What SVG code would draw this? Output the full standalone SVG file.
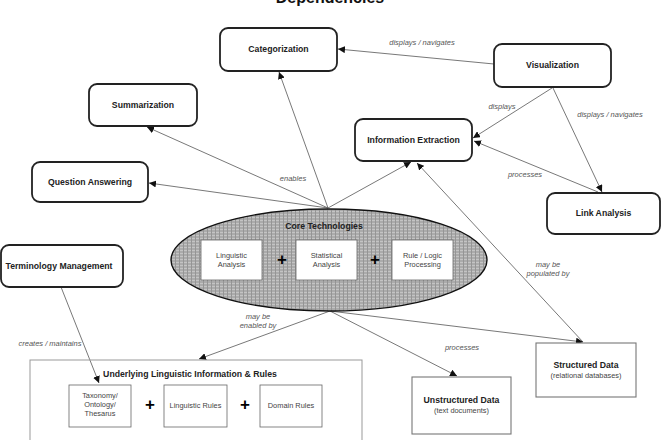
<svg xmlns="http://www.w3.org/2000/svg" width="662" height="440" viewBox="0 0 662 440">
<style>
text{font-family:"Liberation Sans",Arial,sans-serif}
.node rect{fill:#fff;stroke:#222;stroke-width:1.8}
.nt{font-size:8.7px;font-weight:bold;fill:#222;text-anchor:middle}
.lbl{font-size:7.5px;font-style:italic;fill:#555;text-anchor:middle}
.in rect{fill:#fff;stroke:#666;stroke-width:0.8}
.it{font-size:7.4px;fill:#444;text-anchor:middle}
.plus{font-size:17px;font-weight:bold;fill:#000;text-anchor:middle}
.data rect{fill:#fff;stroke:#777;stroke-width:1.1}
.sub{font-size:7.4px;fill:#444;text-anchor:middle}
#connectors path{fill:none;stroke:#555;stroke-width:0.8;marker-end:url(#ah)}
</style>
<defs>
<marker id="ah" viewBox="0 0 10 10" refX="10" refY="5" markerWidth="7" markerHeight="7" markerUnits="userSpaceOnUse" orient="auto">
<path d="M0,0 L10,5 L0,10 z" fill="#111"/>
</marker>
<pattern id="tex" width="4" height="3" patternUnits="userSpaceOnUse">
<rect width="4" height="3" fill="#ababab"/>
<rect x="0" y="1" width="3" height="1" fill="#c4c4c4"/>
<rect x="3" y="0" width="1" height="3" fill="#959595"/>
</pattern>
</defs>
<rect width="662" height="440" fill="#fff"/>
<text x="330" y="3" font-size="16" font-weight="bold" text-anchor="middle" fill="#111">Dependencies</text>

<g id="connectors">
<path d="M494,64 L338,49"/>
<path d="M552,88 L473,138"/>
<path d="M553,88 L602,192"/>
<path d="M598,192 L474,141"/>
<path d="M328,208 L279,72"/>
<path d="M328,208 L147,127"/>
<path d="M328,208 L149,183"/>
<path d="M328,208 L411,162"/>
<path d="M583,342 L417,163"/>
<path d="M330,311 L457,376"/>
<path d="M330,311 L583,342"/>
<path d="M330,311 L199,359"/>
<path d="M61,287 L99,383"/>
<text class="lbl" x="422" y="45">displays / navigates</text>
<text class="lbl" x="502" y="109">displays</text>
<text class="lbl" x="610" y="117">displays / navigates</text>
<text class="lbl" x="525" y="177">processes</text>
<text class="lbl" x="293" y="181">enables</text>
<text class="lbl" x="548" y="267">may be</text>
<text class="lbl" x="548" y="276">populated by</text>
<text class="lbl" x="258" y="319">may be</text>
<text class="lbl" x="258" y="328">enabled by</text>
<text class="lbl" x="462" y="350">processes</text>
<text class="lbl" x="50" y="346">creates / maintains</text>
</g>

<g id="categorization" class="node"><rect x="220" y="28" width="117" height="43" rx="8"/><text class="nt" x="278.5" y="52">Categorization</text></g>
<g id="visualization" class="node"><rect x="494" y="44" width="117" height="43" rx="8"/><text class="nt" x="552.5" y="68">Visualization</text></g>
<g id="summarization" class="node"><rect x="89" y="84" width="108" height="42" rx="8"/><text class="nt" x="143" y="108">Summarization</text></g>
<g id="question-answering" class="node"><rect x="32" y="162" width="116" height="40" rx="8"/><text class="nt" x="90" y="185">Question Answering</text></g>
<g id="information-extraction" class="node"><rect x="355" y="119" width="117" height="42" rx="8"/><text class="nt" x="413.5" y="143">Information Extraction</text></g>
<g id="link-analysis" class="node"><rect x="547" y="193" width="113" height="41" rx="8"/><text class="nt" x="603.5" y="216">Link Analysis</text></g>
<g id="terminology-management" class="node"><rect x="1" y="245" width="122" height="42" rx="8"/><text class="nt" x="59" y="269">Terminology Management</text></g>

<g id="core-technologies">
<ellipse cx="329" cy="260" rx="158" ry="51" fill="url(#tex)" stroke="#111" stroke-width="1.4"/>
<text class="nt" x="324" y="229">Core Technologies</text>
<g class="in"><rect x="201" y="240" width="61" height="40"/><rect x="296" y="240" width="61" height="40"/><rect x="392" y="240" width="61" height="40"/></g>
<text class="it" x="231.5" y="258">Linguistic</text><text class="it" x="231.5" y="267">Analysis</text>
<text class="it" x="326.5" y="258">Statistical</text><text class="it" x="326.5" y="267">Analysis</text>
<text class="it" x="422.5" y="258">Rule / Logic</text><text class="it" x="422.5" y="267">Processing</text>
<text class="plus" x="282" y="265">+</text>
<text class="plus" x="375" y="265">+</text>
</g>

<g id="underlying-linguistic">
<rect x="30" y="360" width="332" height="90" fill="none" stroke="#999" stroke-width="1"/>
<text class="nt" x="190" y="377">Underlying Linguistic Information &amp; Rules</text>
<g class="in"><rect x="69" y="385" width="62" height="42"/><rect x="164" y="385" width="63" height="42"/><rect x="260" y="385" width="62" height="42"/></g>
<text class="it" x="100" y="398">Taxonomy/</text><text class="it" x="100" y="407">Ontology/</text><text class="it" x="100" y="416">Thesarus</text>
<text class="it" x="195.5" y="408">Linguistic Rules</text>
<text class="it" x="291" y="408">Domain Rules</text>
<text class="plus" x="150" y="410">+</text>
<text class="plus" x="245" y="410">+</text>
</g>

<g id="unstructured-data" class="data"><rect x="412" y="377" width="99" height="57"/><text class="nt" x="461.5" y="403">Unstructured Data</text><text class="sub" x="461.5" y="413">(text documents)</text></g>
<g id="structured-data" class="data"><rect x="536" y="343" width="100" height="54"/><text class="nt" x="586" y="368">Structured Data</text><text class="sub" x="586" y="378">(relational databases)</text></g>
</svg>
